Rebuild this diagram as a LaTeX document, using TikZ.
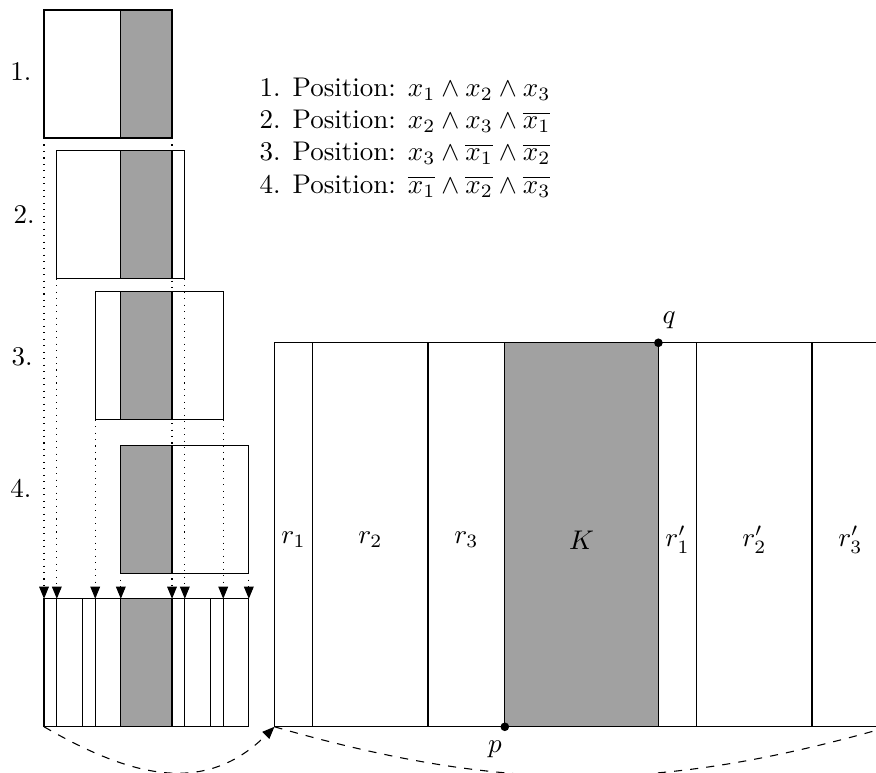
\documentclass[tikz,border=0pt]{standalone}
\usepackage{amsmath}
\usetikzlibrary{arrows.meta}
\definecolor{kgray}{gray}{0.63}

\begin{document}
\begin{tikzpicture}[x=0.33333cm,y=0.33333cm,>={Triangle[length=4.5pt,width=3.6pt]},
        posbox/.style={draw, rectangle, inner sep=0pt, outer sep=0pt, minimum width=1.66667cm, minimum height=1.66667cm},
        kpart/.style={draw, fill=kgray},
        proj/.style={dotted, ->},
        pt/.style={circle, fill, inner sep=0pt, minimum size=3.2pt}]
        \useasboundingbox (-1.72,-1.8) rectangle (32.5,28.39);
        \clip (-1.72,-1.8) rectangle (32.5,28.39);

        % the four positions
        \foreach \i/\x/\y in {1/2.5/25.5, 2/3/20, 3/4.5/14.5, 4/5.5/8.5} {
            \filldraw[kpart] (3,\y-2.5) rectangle (5,\y+2.5);
            \node (pos\i) [posbox] at (\x,\y) {};
        }
        \node (lab1) at (-0.9,25.6) {1.};
        \node (lab2) at (-0.78,20.03) {2.};
        \node (lab3) at (-0.86,14.45) {3.};
        \node (lab4) at (-0.9,9.33) {4.};

        \node (legend) [anchor=west, align=left] at (8.05,23.02) {1. Position: $x_1 \wedge x_2 \wedge x_3$\\
            2. Position: $x_2 \wedge x_3 \wedge \overline{x_1}$\\
            3. Position: $x_3 \wedge \overline{x_1} \wedge \overline{x_2}$\\
            4. Position: $\overline{x_1} \wedge \overline{x_2} \wedge \overline{x_3}$};

        % common refinement
        \fill[kgray] (3,0) rectangle (5,5);
        \node (strip) [posbox, minimum width=2.66667cm] at (4,2.5) {};
        \foreach \x in {0.5,1.5,2,3,5,5.5,6.5,7} \draw (\x,0) -- (\x,5);

        \foreach \i in {1,...,4} {
            \draw[proj] (pos\i.south west) -- (pos\i.south west |- strip.north);
            \draw[proj] (pos\i.south east) -- (pos\i.south east |- strip.north);
        }

        % scaled copy
        \fill[kgray] (18,0) rectangle (24,15);
        \node (cut) [posbox, minimum width=8cm, minimum height=5cm] at (21,7.5) {};
        \foreach \x in {10.5,15,18,24,25.5,30} \draw (\x,0) -- (\x,15);
        \foreach \x/\t [count=\n] in {9.75/r_1, 12.75/r_2, 16.5/r_3, 21/K, 24.75/r'_1, 27.75/r'_2, 31.5/r'_3}
            \node (reg\n) at (\x,7.3) {$\t$};

        \node (p) [pt, label={[xshift=-3.7pt]below:$p$}] at (18,0) {};
        \node (q) [pt, label={[xshift=4pt]above:$q$}] at (24,15) {};

        \draw[dashed, ->] (strip.south west) to[out=-30, in=-135, looseness=1.1] (cut.south west);
        \draw[dashed] (cut.south west) to[out=-16, in=-164] (cut.south east);
    \end{tikzpicture}
\end{document}
